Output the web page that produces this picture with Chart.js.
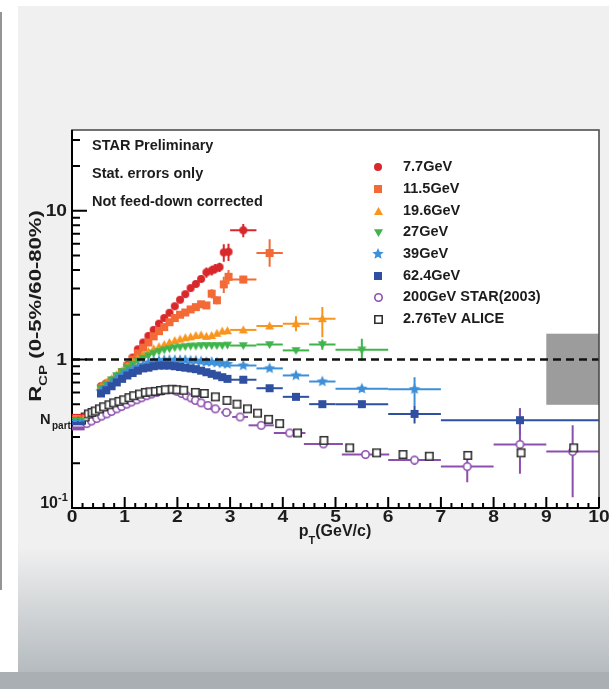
<!DOCTYPE html>
<html>
<head>
<meta charset="utf-8">
<script src="https://cdn.jsdelivr.net/npm/chart.js@4.4.1/dist/chart.umd.min.js"></script>
<style>
html, body { margin: 0; padding: 0; }
body { width: 609px; height: 689px; position: relative; overflow: hidden; background: #fff; }
#panel { position: absolute; left: 18px; top: 6px; width: 591px; height: 666px;
  background: linear-gradient(to bottom, #f0f0f0 0px, #f0f0f0 541px, #b5bbbf 666px); }
#bar { position: absolute; left: 0; top: 672px; width: 609px; height: 17px; background: #a9afb3; }
#edge { position: absolute; left: 0; top: 12px; width: 2px; height: 578px; background: #959595; }
#myChart { position: absolute; left: 0; top: 0; }
</style>
</head>
<body>
<div id="panel"></div>
<div id="bar"></div>
<div id="edge"></div>
<canvas id="myChart" width="609" height="689"></canvas>
<script>
// pT bins shared by the BES energies
var ptFine = [0.55,0.65,0.75,0.85,0.95,1.05,1.15,1.25,1.35,1.45,1.55,1.65,1.75,1.85,1.95,2.05,2.15,2.25,2.35,2.45,2.55,2.65,2.75,2.85,2.95];

var pt77 = [0.55,0.65,0.75,0.85,0.95,1.05,1.15,1.25,1.35,1.45,1.55,1.65,1.75,1.85,1.95,2.05,2.15,2.25,2.35,2.45,2.55,2.65,2.72,2.80,2.88,2.97,3.25];
var r77 = [0.66,0.69,0.72,0.76,0.82,0.92,1.03,1.17,1.30,1.44,1.58,1.74,1.90,2.06,2.28,2.52,2.75,3.02,3.22,3.48,3.85,3.97,4.08,4.18,5.25,5.30,7.40];
// [index, x half width, err low, err high]
var err77 = [[20,0.04,0.3,0.3],[21,0.04,0.3,0.3],[22,0.04,0.3,0.3],[23,0.04,0.3,0.3],[24,0.04,0.7,0.7],[25,0.04,0.7,0.7],[26,0.25,0.75,0.75]];

var pt115 = [0.55,0.65,0.75,0.85,0.95,1.05,1.15,1.25,1.35,1.45,1.55,1.65,1.75,1.85,1.95,2.05,2.15,2.25,2.35,2.45,2.55,2.65,2.75,2.88,2.97,3.25,3.75];
var r115 = [0.64,0.67,0.71,0.76,0.82,0.90,1.00,1.10,1.20,1.30,1.43,1.55,1.65,1.78,1.90,2.00,2.07,2.17,2.25,2.35,2.31,2.77,2.50,3.20,3.60,3.45,5.20];
var err115 = [[21,0.04,0.2,0.2],[22,0.04,0.15,0.15],[23,0.04,0.4,0.4],[24,0.04,0.4,0.4],[25,0.25,0.2,0.2],[26,0.25,1.0,1.25]];

var pt196 = ptFine.concat([3.25,3.75,4.25,4.75]);
var r196 = [0.66,0.70,0.74,0.79,0.84,0.90,0.96,1.02,1.08,1.13,1.18,1.22,1.26,1.30,1.34,1.37,1.40,1.42,1.45,1.46,1.43,1.45,1.50,1.55,1.56,1.58,1.68,1.74,1.88];
var err196 = [[25,0.25,0,0],[26,0.25,0.05,0.05],[27,0.25,0.19,0.21],[28,0.25,0.47,0.37]];

var pt27 = ptFine.concat([3.25,3.75,4.25,4.75,5.5]);
var r27 = [0.64,0.68,0.73,0.78,0.83,0.88,0.93,0.98,1.02,1.06,1.10,1.13,1.16,1.18,1.20,1.21,1.22,1.23,1.23,1.24,1.24,1.24,1.24,1.24,1.25,1.24,1.26,1.15,1.26,1.16];
var err27 = [[25,0.25,0,0],[26,0.25,0,0],[27,0.25,0,0],[28,0.25,0.1,0.1],[29,0.5,0.18,0.22]];

var pt39 = ptFine.concat([3.25,3.75,4.25,4.75,5.5,6.5]);
var r39 = [0.61,0.65,0.69,0.74,0.78,0.82,0.86,0.89,0.92,0.95,0.97,0.98,0.99,0.99,0.99,0.99,0.99,0.98,0.98,0.97,0.96,0.96,0.95,0.94,0.93,0.91,0.87,0.78,0.71,0.635,0.63];
var err39 = [[25,0.25,0,0],[26,0.25,0,0],[27,0.25,0,0],[28,0.25,0,0],[29,0.5,0.03,0.03],[30,0.5,0.14,0.13]];

var pt624 = ptFine.concat([3.25,3.75,4.25,4.75,5.5,6.5,8.5]);
var r624 = [0.59,0.62,0.66,0.70,0.74,0.78,0.81,0.84,0.87,0.88,0.90,0.91,0.91,0.91,0.90,0.89,0.88,0.87,0.86,0.84,0.82,0.80,0.78,0.76,0.74,0.73,0.64,0.56,0.50,0.50,0.43,0.39];
var err624 = [[25,0.25,0,0],[26,0.25,0,0],[27,0.25,0,0],[28,0.25,0,0],[29,0.5,0,0],[30,0.5,0.06,0.06],[31,1.5,0.08,0.08]];

var pt200 = [0.28,0.37,0.47,0.56,0.66,0.75,0.85,0.94,1.04,1.13,1.23,1.32,1.42,1.51,1.61,1.70,1.80,1.90,1.99,2.08,2.17,2.26,2.34,2.45,2.58,2.72,2.93,3.19,3.59,4.13,4.77,5.57,6.5,7.5,8.5,9.5];
var r200 = [0.37,0.385,0.40,0.415,0.43,0.447,0.465,0.482,0.50,0.517,0.535,0.552,0.57,0.585,0.60,0.613,0.625,0.625,0.61,0.59,0.57,0.55,0.53,0.51,0.49,0.465,0.44,0.41,0.36,0.32,0.27,0.229,0.21,0.19,0.268,0.24];
var err200 = [[23,0.06,0,0],[24,0.07,0,0],[25,0.1,0,0],[26,0.1,0,0],[27,0.15,0,0],[28,0.24,0,0],[29,0.3,0,0],[30,0.37,0,0],[31,0.45,0.015,0.015],[32,0.5,0.015,0.015],[33,0.5,0.041,0.042],[34,0.5,0.098,0.197],[35,0.5,0.122,0.12]];

var ptAlice = [0.18,0.25,0.31,0.38,0.44,0.52,0.60,0.70,0.79,0.89,0.98,1.08,1.17,1.28,1.39,1.48,1.58,1.68,1.77,1.90,1.99,2.12,2.34,2.51,2.72,2.94,3.13,3.33,3.52,3.73,3.94,4.28,4.78,5.27,5.78,6.28,6.78,7.51,8.52,9.52];
var rAlice = [0.39,0.41,0.43,0.44,0.45,0.465,0.48,0.495,0.51,0.522,0.535,0.553,0.57,0.585,0.60,0.605,0.61,0.618,0.625,0.63,0.625,0.62,0.60,0.59,0.56,0.53,0.50,0.465,0.435,0.395,0.37,0.32,0.285,0.254,0.235,0.229,0.223,0.226,0.235,0.254];

// Npart scaling bands at low pT (lo, hi), colour index into series
var npartLo = [0.42,0.41,0.397,0.384,0.36,0.333];
var npartHi = [0.43,0.42,0.408,0.396,0.383,0.354];
var npartColor = [0,1,3,4,5,6];
var npartPt = [0, 0.24];
// normalisation uncertainty box [xmin, xmax, ymin, ymax]
var normBox = [9, 10, 0.495, 1.49];

var legendNames = ['7.7GeV','11.5GeV','19.6GeV','27GeV','39GeV','62.4GeV','200GeV STAR(2003)','2.76TeV ALICE'];
var noteLines = ['STAR Preliminary','Stat. errors only','Not feed-down corrected'];
var xTickLabels = ['0','1','2','3','4','5','6','7','8','9','10'];
var yTickValues = [0.1, 1, 10];
var yTickLabels = ['10','1','10'];
var yTickSup = ['-1','',''];

var FONT = '"Liberation Sans", Arial, Helvetica, sans-serif';
var INK = '#1c1c1c';

function marker(shape, color, size) {
    var n = size + 4;
    var c = document.createElement('canvas');
    c.width = n; c.height = n;
    var g = c.getContext('2d');
    var m = n / 2, r = size / 2;
    g.fillStyle = color;
    g.strokeStyle = color;
    g.lineWidth = 1.6;
    g.beginPath();
    if (shape === 'circle' || shape === 'ocircle') {
        g.arc(m, m, shape === 'ocircle' ? r - 0.8 : r, 0, Math.PI * 2);
    } else if (shape === 'square') {
        g.rect(m - r, m - r, size, size);
    } else if (shape === 'osquare') {
        g.rect(m - r + 0.8, m - r + 0.8, size - 1.6, size - 1.6);
    } else if (shape === 'tri') {
        g.moveTo(m, m - r); g.lineTo(m + r, m + r * 0.75); g.lineTo(m - r, m + r * 0.75); g.closePath();
    } else if (shape === 'itri') {
        g.moveTo(m, m + r); g.lineTo(m + r, m - r * 0.75); g.lineTo(m - r, m - r * 0.75); g.closePath();
    } else if (shape === 'star') {
        for (var k = 0; k < 10; k++) {
            var rr = k % 2 ? r * 0.45 : r;
            var a = -Math.PI / 2 + k * Math.PI / 5;
            g.lineTo(m + rr * Math.cos(a), m + rr * Math.sin(a));
        }
        g.closePath();
    }
    if (shape[0] === 'o') {
        g.fillStyle = '#fff';
        g.fill();
        g.stroke();
    } else {
        g.fill();
    }
    return c;
}

var series = [
    { pt: pt77, r: r77, err: err77, color: '#d8282c', shape: 'circle', size: 8 },
    { pt: pt115, r: r115, err: err115, color: '#f36a37', shape: 'square', size: 8 },
    { pt: pt196, r: r196, err: err196, color: '#f8951e', shape: 'tri', size: 9 },
    { pt: pt27, r: r27, err: err27, color: '#3fb44b', shape: 'itri', size: 9 },
    { pt: pt39, r: r39, err: err39, color: '#3d8fd8', shape: 'star', size: 12 },
    { pt: pt624, r: r624, err: err624, color: '#2f4fa0', shape: 'square', size: 8 },
    { pt: pt200, r: r200, err: err200, color: '#8c4fae', shape: 'ocircle', size: 9 },
    { pt: ptAlice, r: rAlice, err: [], color: '#303030', shape: 'osquare', size: 9 }
];
series.forEach(function (s) { s.img = marker(s.shape, s.color, s.size); });

function txt(ctx, s, x, y, size, align, sx) {
    ctx.save();
    ctx.font = 'bold ' + size + 'px ' + FONT;
    ctx.fillStyle = INK;
    ctx.textBaseline = 'middle';
    ctx.textAlign = align || 'left';
    ctx.translate(x, y);
    ctx.scale(sx || 1, 1);
    ctx.fillText(s, 0, 0);
    ctx.restore();
}

var decorations = {
    id: 'decorations',
    beforeDraw: function (chart) {
        var a = chart.chartArea, ctx = chart.ctx;
        ctx.save();
        ctx.fillStyle = '#fff';
        ctx.fillRect(a.left, a.top, a.right - a.left, a.bottom - a.top);
        ctx.restore();
    },
    beforeDatasetsDraw: function (chart) {
        var ctx = chart.ctx, xs = chart.scales.x, ys = chart.scales.y;
        ctx.save();
        // normalisation box
        var bx0 = xs.getPixelForValue(normBox[0]), bx1 = xs.getPixelForValue(normBox[1]);
        var by0 = ys.getPixelForValue(normBox[3]), by1 = ys.getPixelForValue(normBox[2]);
        ctx.fillStyle = '#9c9c9c';
        ctx.fillRect(bx0, by0, bx1 - bx0, by1 - by0);
        // error bars
        ctx.lineWidth = 2;
        series.forEach(function (s) {
            ctx.strokeStyle = s.color;
            s.err.forEach(function (e) {
                var i = e[0], x = s.pt[i], y = s.r[i];
                var px = xs.getPixelForValue(x), py = ys.getPixelForValue(y);
                ctx.beginPath();
                if (e[1] > 0) {
                    ctx.moveTo(xs.getPixelForValue(x - e[1]), py);
                    ctx.lineTo(xs.getPixelForValue(x + e[1]), py);
                }
                if (e[2] > 0 || e[3] > 0) {
                    ctx.moveTo(px, ys.getPixelForValue(y - e[2]));
                    ctx.lineTo(px, ys.getPixelForValue(y + e[3]));
                }
                ctx.stroke();
            });
        });
        ctx.restore();
    },
    afterDraw: function (chart) {
        var ctx = chart.ctx, xs = chart.scales.x, ys = chart.scales.y, a = chart.chartArea;
        ctx.save();
        // dashed unity line
        ctx.strokeStyle = '#111';
        ctx.lineWidth = 2.5;
        ctx.setLineDash([8, 5]);
        ctx.beginPath();
        ctx.moveTo(a.left, ys.getPixelForValue(1));
        ctx.lineTo(a.right, ys.getPixelForValue(1));
        ctx.stroke();
        ctx.setLineDash([]);

        // frame
        ctx.strokeStyle = '#444';
        ctx.lineWidth = 1.5;
        ctx.strokeRect(a.left, a.top, a.right - a.left, a.bottom - a.top);
        ctx.strokeStyle = '#000';
        ctx.lineWidth = 2;
        ctx.beginPath();
        ctx.moveTo(a.left, a.top);
        ctx.lineTo(a.left, a.bottom);
        ctx.lineTo(a.right, a.bottom);
        ctx.stroke();

        // y ticks (log)
        ctx.lineWidth = 2;
        ctx.beginPath();
        [0.1, 1, 10].forEach(function (d) {
            for (var k = 1; k <= 9; k++) {
                var v = k * d;
                if (v > ys.max) break;
                var py = ys.getPixelForValue(v);
                ctx.moveTo(a.left, py);
                ctx.lineTo(a.left + (k === 1 ? 15 : 8), py);
            }
        });
        // x ticks
        for (var t = 0; t <= 50; t++) {
            var px = xs.getPixelForValue(t / 5);
            ctx.moveTo(px, a.bottom);
            ctx.lineTo(px, a.bottom - (t % 5 === 0 ? 11 : 5));
        }
        ctx.stroke();

        // Npart bands
        for (var b = 0; b < npartLo.length; b++) {
            var x0 = xs.getPixelForValue(npartPt[0]), x1 = xs.getPixelForValue(npartPt[1]);
            var y0 = ys.getPixelForValue(npartHi[b]), y1 = ys.getPixelForValue(npartLo[b]);
            ctx.fillStyle = series[npartColor[b]].color;
            ctx.fillRect(x0, y0, x1 - x0, y1 - y0);
        }

        // tick labels
        xTickLabels.forEach(function (l, i) {
            txt(ctx, l, xs.getPixelForValue(i), 518, 16, 'center', 1.2);
        });
        yTickValues.forEach(function (v, i) {
            var py = ys.getPixelForValue(v);
            if (yTickSup[i]) {
                txt(ctx, yTickLabels[i], 58, py - 4, 16, 'right', 1.0);
                txt(ctx, yTickSup[i], 58, py - 10, 11, 'left', 1.0);
            } else {
                txt(ctx, yTickLabels[i], 67, py + 1, 16, 'right', 1.2);
            }
        });
        txt(ctx, 'N', 40, 420, 14, 'left', 1.05);
        txt(ctx, 'part', 52, 426, 10, 'left', 1.0);

        // x title
        ctx.font = 'bold 16px ' + FONT;
        var wP = ctx.measureText('p').width, wR = ctx.measureText('(GeV/c)').width;
        ctx.font = 'bold 11px ' + FONT;
        var wT = ctx.measureText('T').width;
        var xs0 = 335 - (wP + wT + wR) / 2;
        txt(ctx, 'p', xs0, 532, 16, 'left');
        txt(ctx, 'T', xs0 + wP, 541, 11, 'left');
        txt(ctx, '(GeV/c)', xs0 + wP + wT, 532, 16, 'left');

        // y title (rotated, stretched along its length)
        ctx.save();
        ctx.translate(37, 306);
        ctx.rotate(-Math.PI / 2);
        ctx.scale(1.38, 1);
        ctx.font = 'bold 16px ' + FONT;
        var wRr = ctx.measureText('R').width, wRest = ctx.measureText(' (0-5%/60-80%)').width;
        ctx.font = 'bold 11px ' + FONT;
        var wCP = ctx.measureText('CP').width;
        var s0 = -(wRr + wCP + wRest) / 2;
        txt(ctx, 'R', s0, 0, 16, 'left');
        txt(ctx, 'CP', s0 + wRr, 7, 11, 'left');
        txt(ctx, ' (0-5%/60-80%)', s0 + wRr + wCP, 0, 16, 'left');
        ctx.restore();

        // notes
        noteLines.forEach(function (l, i) {
            txt(ctx, l, 92, 146 + i * 28, 14.5, 'left');
        });

        // legend
        var rows = [167, 189, 211, 232, 254, 276, 297, 319];
        legendNames.forEach(function (l, i) {
            var img = series[i].img;
            ctx.drawImage(img, Math.round(378 - img.width / 2), Math.round(rows[i] - img.height / 2));
            txt(ctx, l, 403, rows[i], 14.5, 'left');
        });
        ctx.restore();
    }
};

var datasets = series.map(function (s, i) {
    return {
        label: legendNames[i],
        data: s.pt.map(function (x, j) { return { x: x, y: s.r[j] }; }),
        pointStyle: s.img,
        pointRadius: 4,
        showLine: false,
        order: 10 - i
    };
});

var ctx = document.getElementById('myChart').getContext('2d');
var currentChart = new Chart(ctx, {
    type: 'scatter',
    data: { datasets: datasets },
    options: {
        responsive: false,
        animation: false,
        devicePixelRatio: 1,
        layout: { padding: { left: 72, top: 130, right: 10, bottom: 181 } },
        plugins: { legend: { display: false }, tooltip: { enabled: false } },
        scales: {
            x: { type: 'linear', min: 0, max: 10, display: false },
            y: { type: 'logarithmic', min: 0.1, max: 35, display: false }
        }
    },
    plugins: [decorations]
});
</script>
</body>
</html>
